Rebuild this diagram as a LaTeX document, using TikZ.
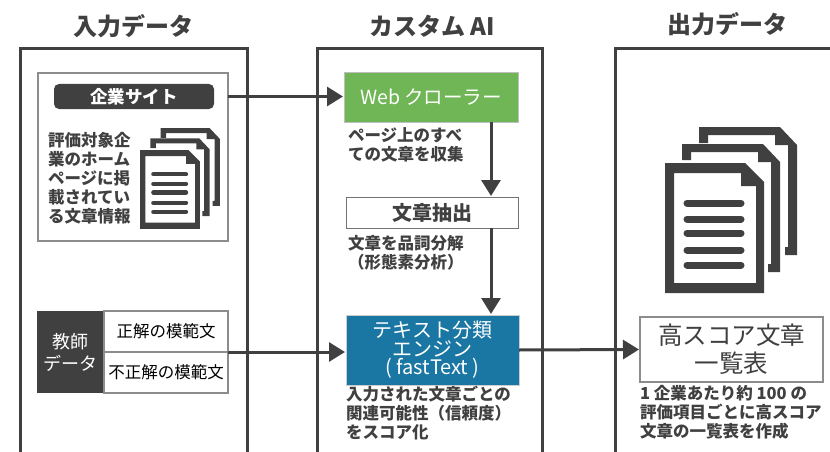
\documentclass[tikz,border=0pt]{standalone}
\usepackage{fontspec}
\setmainfont{Noto Sans CJK JP}
\usepackage{xcolor}
\usepackage{tikz}
\usetikzlibrary{arrows.meta,calc,positioning}
\definecolor{inkdark}{HTML}{404040}
\definecolor{webgreen}{HTML}{70B556}
\definecolor{engineblue}{HTML}{1A76A3}
\newcommand{\docstack}[2]{
  \begin{scope}[shift={#1},scale=#2]
    \foreach \dx/\dy in {34/-36,17/-19} {
      \fill[inkdark,shift={(\dx,\dy)}] (0,16) -- (0,0) -- (81,0) -- (98,18) -- (98,128) -- (86,128) -- (86,120)
        -- (89,120) -- (89,18) -- (76,18) -- (76,8) -- (9,8) -- (9,16) -- cycle;
    }
    \fill[white] (0,0) -- (80,0) -- (99,19) -- (99,130) -- (0,130) -- cycle;
    \fill[inkdark,even odd rule] (0,0) -- (80,0) -- (99,19) -- (99,130) -- (0,130) -- cycle
      (9,10) -- (76,10) -- (76,23) -- (91,23) -- (91,120) -- (9,120) -- cycle;
    \foreach \ly in {40,56,70,87,102} {
      \draw[inkdark,line width=#2*7pt,line cap=round] (22,\ly) -- (76,\ly);
    }
  \end{scope}
}

\begin{document}
\begin{tikzpicture}[
    x=1pt,
    y=-1pt,
    panel/.style={draw=inkdark, line width=3pt},
    title/.style={text=inkdark, font=\fontsize{24}{28}\selectfont\bfseries},
    caption/.style={text=inkdark, align=left, inner sep=0, outer sep=0, anchor=north west, font=\fontsize{16.5}{19}\selectfont\bfseries},
    flow/.style={draw=inkdark, line width=3pt, -{Triangle[length=16pt,width=19pt]}, shorten >=1pt},
    box/.style={inner sep=0, outer sep=0, align=center},
    lightline/.style={draw=black!45, line width=1.5pt},
    filled/.style={box, text=white}
  ]
\useasboundingbox (0,0) rectangle (830,452);

\node[title] (intitle) at (133,26) {入力データ};
\node[title] (aititle) at (432,26) {カスタム AI};
\node[title] (outtitle) at (727,24) {出力データ};

\draw[panel] (20,452) -- (20,49) -- (247,49) -- (247,452);
\draw[panel] (317,452) -- (317,49) -- (542,49) -- (542,452);
\draw[panel] (615,452) -- (615,49) -- (830,49);

% input side
\node[box, lightline, fill=white, minimum width=190pt, minimum height=168pt] (source) at (133,157) {};
\node[filled, fill=inkdark, rounded corners=5pt, minimum width=160pt, minimum height=25pt, font=\fontsize{17.5}{20}\selectfont\bfseries] (pill) at (134,96.5) {企業サイト};
\node[caption] (sourcetext) at (48,132) {評価対象企\\業のホーム\\ページに掲\\載されてい\\る文章情報};
\docstack{(140,150)}{0.606}

\node[filled, fill=inkdark, minimum width=67pt, minimum height=82pt, font=\fontsize{18}{22}\selectfont] (teacher) at (70.5,352) {教師\\データ};
\node[box, lightline, fill=white, minimum width=124pt, minimum height=41pt, font=\fontsize{16.5}{19}\selectfont] (good) at (166,331.5) {正解の模範文};
\node[box, lightline, fill=white, minimum width=124pt, minimum height=41pt, font=\fontsize{16.5}{19}\selectfont] (bad) at (166,372.5) {不正解の模範文};

% custom AI
\node[filled, fill=webgreen, draw=black!25, minimum width=174pt, minimum height=50pt, font=\fontsize{19.5}{23}\selectfont] (web) at (431,97) {Web クローラー};
\node[caption, below=6pt of web.south west, anchor=north west, xshift=4pt] (webtext) {ページ上のすべ\\ての文章を収集};
\node[box, draw=black!55, line width=1pt, minimum width=172pt, minimum height=31pt, text=inkdark, font=\fontsize{20}{24}\selectfont\bfseries] (extract) at (432,212.5) {文章抽出};
\node[caption, below=7pt of extract.south west, anchor=north west, xshift=2pt] (extracttext) {文章を品詞分解\\（形態素分析）};
\node[filled, fill=engineblue, draw=black!20, minimum width=173pt, minimum height=70pt, font=\fontsize{20}{18.5}\selectfont] (engine) at (432.5,350) {テキスト分類\\エンジン\\( fastText )};
\node[caption, below=1pt of engine.south west, anchor=north west] (enginetext) {入力された文章ごとの\\関連可能性（信頼度）\\をスコア化};

% output side
\docstack{(665,163)}{1}
\node[box, lightline, fill=white, minimum width=183pt, minimum height=65pt, text=inkdark, font=\fontsize{24.5}{28}\selectfont] (output) at (731.5,349.5) {高スコア文章\\一覧表};
\node[caption, below=3pt of output.south west, anchor=north west] (outputtext) {1 企業あたり約 100 の\\評価項目ごとに高スコア\\文章の一覧表を作成};

% connectors
\coordinate (drop) at (491,97);
\draw[flow] (pill -| source.east) -- (pill -| web.west);
\draw[flow] (drop |- web.south) -- (drop |- extract.north);
\draw[flow] (drop |- extract.south) -- (drop |- engine.north);
\draw[flow] (good.south east) -- (good.south east -| engine.west);
\draw[flow] (engine.east) -- (output.west);

\end{tikzpicture}
\end{document}
